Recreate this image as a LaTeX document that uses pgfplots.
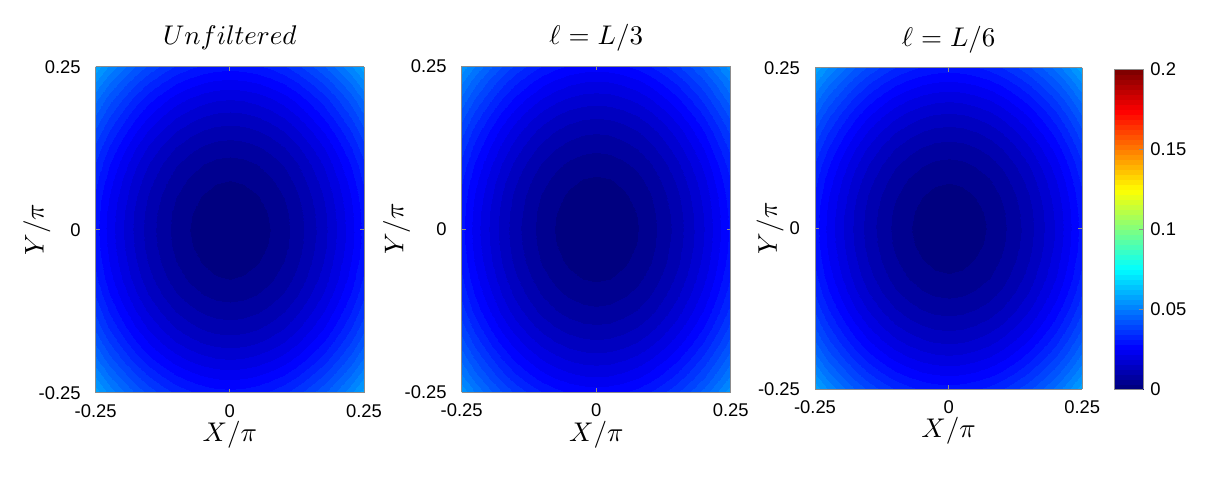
\documentclass[border=0pt]{standalone}
\usepackage{fontspec}
\setmainfont{Liberation Sans}
\DeclareFontShape{OML}{cmm}{m}{it}{<-> cmmi10}{}
\DeclareFontShape{OT1}{cmr}{m}{n}{<-> cmr10}{}
\usepackage{pgfplots}
\usepackage{pgfplotstable}
\pgfplotsset{compat=1.18}
\pgfplotsset{colormap={myjet}{rgb255(0cm)=(0,0,128) rgb255(1cm)=(0,0,255) rgb255(3cm)=(0,255,255) rgb255(5cm)=(255,255,0) rgb255(7cm)=(255,0,0) rgb255(8cm)=(128,0,0)}}
\pgfplotstableread{
x y a b c
-0.25 -0.25 0.0581 0.0554 0.0584
-0.225 -0.25 0.0526 0.0499 0.0529
-0.2 -0.25 0.0477 0.0450 0.0480
-0.175 -0.25 0.0434 0.0407 0.0437
-0.15 -0.25 0.0397 0.0370 0.0400
-0.125 -0.25 0.0365 0.0338 0.0368
-0.1 -0.25 0.0339 0.0312 0.0342
-0.075 -0.25 0.0319 0.0292 0.0322
-0.05 -0.25 0.0305 0.0278 0.0308
-0.025 -0.25 0.0296 0.0269 0.0299
0 -0.25 0.0293 0.0266 0.0296
0.025 -0.25 0.0296 0.0269 0.0299
0.05 -0.25 0.0305 0.0278 0.0308
0.075 -0.25 0.0319 0.0292 0.0322
0.1 -0.25 0.0339 0.0312 0.0342
0.125 -0.25 0.0365 0.0338 0.0368
0.15 -0.25 0.0397 0.0370 0.0400
0.175 -0.25 0.0434 0.0407 0.0437
0.2 -0.25 0.0477 0.0450 0.0480
0.225 -0.25 0.0526 0.0499 0.0529
0.25 -0.25 0.0581 0.0554 0.0584
-0.25 -0.225 0.0526 0.0504 0.0529
-0.225 -0.225 0.0471 0.0449 0.0474
-0.2 -0.225 0.0422 0.0400 0.0425
-0.175 -0.225 0.0379 0.0357 0.0382
-0.15 -0.225 0.0342 0.0320 0.0345
-0.125 -0.225 0.0310 0.0288 0.0313
-0.1 -0.225 0.0284 0.0262 0.0287
-0.075 -0.225 0.0264 0.0242 0.0267
-0.05 -0.225 0.0250 0.0228 0.0253
-0.025 -0.225 0.0241 0.0219 0.0244
0 -0.225 0.0238 0.0216 0.0241
0.025 -0.225 0.0241 0.0219 0.0244
0.05 -0.225 0.0250 0.0228 0.0253
0.075 -0.225 0.0264 0.0242 0.0267
0.1 -0.225 0.0284 0.0262 0.0287
0.125 -0.225 0.0310 0.0288 0.0313
0.15 -0.225 0.0342 0.0320 0.0345
0.175 -0.225 0.0379 0.0357 0.0382
0.2 -0.225 0.0422 0.0400 0.0425
0.225 -0.225 0.0471 0.0449 0.0474
0.25 -0.225 0.0526 0.0504 0.0529
-0.25 -0.2 0.0477 0.0459 0.0480
-0.225 -0.2 0.0422 0.0404 0.0425
-0.2 -0.2 0.0373 0.0355 0.0376
-0.175 -0.2 0.0330 0.0312 0.0333
-0.15 -0.2 0.0293 0.0275 0.0296
-0.125 -0.2 0.0261 0.0243 0.0264
-0.1 -0.2 0.0235 0.0217 0.0238
-0.075 -0.2 0.0215 0.0197 0.0218
-0.05 -0.2 0.0201 0.0183 0.0204
-0.025 -0.2 0.0192 0.0174 0.0195
0 -0.2 0.0189 0.0171 0.0192
0.025 -0.2 0.0192 0.0174 0.0195
0.05 -0.2 0.0201 0.0183 0.0204
0.075 -0.2 0.0215 0.0197 0.0218
0.1 -0.2 0.0235 0.0217 0.0238
0.125 -0.2 0.0261 0.0243 0.0264
0.15 -0.2 0.0293 0.0275 0.0296
0.175 -0.2 0.0330 0.0312 0.0333
0.2 -0.2 0.0373 0.0355 0.0376
0.225 -0.2 0.0422 0.0404 0.0425
0.25 -0.2 0.0477 0.0459 0.0480
-0.25 -0.175 0.0434 0.0420 0.0437
-0.225 -0.175 0.0379 0.0365 0.0382
-0.2 -0.175 0.0330 0.0316 0.0333
-0.175 -0.175 0.0287 0.0273 0.0290
-0.15 -0.175 0.0250 0.0236 0.0253
-0.125 -0.175 0.0218 0.0204 0.0221
-0.1 -0.175 0.0192 0.0178 0.0195
-0.075 -0.175 0.0172 0.0158 0.0175
-0.05 -0.175 0.0158 0.0144 0.0161
-0.025 -0.175 0.0149 0.0135 0.0152
0 -0.175 0.0146 0.0132 0.0149
0.025 -0.175 0.0149 0.0135 0.0152
0.05 -0.175 0.0158 0.0144 0.0161
0.075 -0.175 0.0172 0.0158 0.0175
0.1 -0.175 0.0192 0.0178 0.0195
0.125 -0.175 0.0218 0.0204 0.0221
0.15 -0.175 0.0250 0.0236 0.0253
0.175 -0.175 0.0287 0.0273 0.0290
0.2 -0.175 0.0330 0.0316 0.0333
0.225 -0.175 0.0379 0.0365 0.0382
0.25 -0.175 0.0434 0.0420 0.0437
-0.25 -0.15 0.0397 0.0386 0.0400
-0.225 -0.15 0.0342 0.0331 0.0345
-0.2 -0.15 0.0293 0.0282 0.0296
-0.175 -0.15 0.0250 0.0239 0.0253
-0.15 -0.15 0.0213 0.0202 0.0216
-0.125 -0.15 0.0181 0.0170 0.0184
-0.1 -0.15 0.0155 0.0144 0.0158
-0.075 -0.15 0.0135 0.0124 0.0138
-0.05 -0.15 0.0121 0.0110 0.0124
-0.025 -0.15 0.0112 0.0101 0.0115
0 -0.15 0.0109 0.0098 0.0112
0.025 -0.15 0.0112 0.0101 0.0115
0.05 -0.15 0.0121 0.0110 0.0124
0.075 -0.15 0.0135 0.0124 0.0138
0.1 -0.15 0.0155 0.0144 0.0158
0.125 -0.15 0.0181 0.0170 0.0184
0.15 -0.15 0.0213 0.0202 0.0216
0.175 -0.15 0.0250 0.0239 0.0253
0.2 -0.15 0.0293 0.0282 0.0296
0.225 -0.15 0.0342 0.0331 0.0345
0.25 -0.15 0.0397 0.0386 0.0400
-0.25 -0.125 0.0365 0.0357 0.0368
-0.225 -0.125 0.0310 0.0302 0.0313
-0.2 -0.125 0.0261 0.0253 0.0264
-0.175 -0.125 0.0218 0.0210 0.0221
-0.15 -0.125 0.0181 0.0173 0.0184
-0.125 -0.125 0.0149 0.0141 0.0152
-0.1 -0.125 0.0123 0.0115 0.0126
-0.075 -0.125 0.0103 0.0095 0.0106
-0.05 -0.125 0.0089 0.0081 0.0092
-0.025 -0.125 0.0080 0.0072 0.0083
0 -0.125 0.0077 0.0069 0.0080
0.025 -0.125 0.0080 0.0072 0.0083
0.05 -0.125 0.0089 0.0081 0.0092
0.075 -0.125 0.0103 0.0095 0.0106
0.1 -0.125 0.0123 0.0115 0.0126
0.125 -0.125 0.0149 0.0141 0.0152
0.15 -0.125 0.0181 0.0173 0.0184
0.175 -0.125 0.0218 0.0210 0.0221
0.2 -0.125 0.0261 0.0253 0.0264
0.225 -0.125 0.0310 0.0302 0.0313
0.25 -0.125 0.0365 0.0357 0.0368
-0.25 -0.1 0.0339 0.0333 0.0342
-0.225 -0.1 0.0284 0.0278 0.0287
-0.2 -0.1 0.0235 0.0229 0.0238
-0.175 -0.1 0.0192 0.0186 0.0195
-0.15 -0.1 0.0155 0.0149 0.0158
-0.125 -0.1 0.0123 0.0117 0.0126
-0.1 -0.1 0.0097 0.0091 0.0100
-0.075 -0.1 0.0077 0.0071 0.0080
-0.05 -0.1 0.0063 0.0057 0.0066
-0.025 -0.1 0.0054 0.0048 0.0057
0 -0.1 0.0051 0.0045 0.0054
0.025 -0.1 0.0054 0.0048 0.0057
0.05 -0.1 0.0063 0.0057 0.0066
0.075 -0.1 0.0077 0.0071 0.0080
0.1 -0.1 0.0097 0.0091 0.0100
0.125 -0.1 0.0123 0.0117 0.0126
0.15 -0.1 0.0155 0.0149 0.0158
0.175 -0.1 0.0192 0.0186 0.0195
0.2 -0.1 0.0235 0.0229 0.0238
0.225 -0.1 0.0284 0.0278 0.0287
0.25 -0.1 0.0339 0.0333 0.0342
-0.25 -0.075 0.0319 0.0315 0.0322
-0.225 -0.075 0.0264 0.0260 0.0267
-0.2 -0.075 0.0215 0.0211 0.0218
-0.175 -0.075 0.0172 0.0168 0.0175
-0.15 -0.075 0.0135 0.0131 0.0138
-0.125 -0.075 0.0103 0.0099 0.0106
-0.1 -0.075 0.0077 0.0073 0.0080
-0.075 -0.075 0.0057 0.0053 0.0060
-0.05 -0.075 0.0043 0.0039 0.0046
-0.025 -0.075 0.0034 0.0030 0.0037
0 -0.075 0.0031 0.0027 0.0034
0.025 -0.075 0.0034 0.0030 0.0037
0.05 -0.075 0.0043 0.0039 0.0046
0.075 -0.075 0.0057 0.0053 0.0060
0.1 -0.075 0.0077 0.0073 0.0080
0.125 -0.075 0.0103 0.0099 0.0106
0.15 -0.075 0.0135 0.0131 0.0138
0.175 -0.075 0.0172 0.0168 0.0175
0.2 -0.075 0.0215 0.0211 0.0218
0.225 -0.075 0.0264 0.0260 0.0267
0.25 -0.075 0.0319 0.0315 0.0322
-0.25 -0.05 0.0305 0.0302 0.0308
-0.225 -0.05 0.0250 0.0247 0.0253
-0.2 -0.05 0.0201 0.0198 0.0204
-0.175 -0.05 0.0158 0.0155 0.0161
-0.15 -0.05 0.0121 0.0118 0.0124
-0.125 -0.05 0.0089 0.0086 0.0092
-0.1 -0.05 0.0063 0.0060 0.0066
-0.075 -0.05 0.0043 0.0040 0.0046
-0.05 -0.05 0.0029 0.0026 0.0032
-0.025 -0.05 0.0020 0.0017 0.0023
0 -0.05 0.0017 0.0014 0.0020
0.025 -0.05 0.0020 0.0017 0.0023
0.05 -0.05 0.0029 0.0026 0.0032
0.075 -0.05 0.0043 0.0040 0.0046
0.1 -0.05 0.0063 0.0060 0.0066
0.125 -0.05 0.0089 0.0086 0.0092
0.15 -0.05 0.0121 0.0118 0.0124
0.175 -0.05 0.0158 0.0155 0.0161
0.2 -0.05 0.0201 0.0198 0.0204
0.225 -0.05 0.0250 0.0247 0.0253
0.25 -0.05 0.0305 0.0302 0.0308
-0.25 -0.025 0.0296 0.0294 0.0299
-0.225 -0.025 0.0241 0.0239 0.0244
-0.2 -0.025 0.0192 0.0190 0.0195
-0.175 -0.025 0.0149 0.0147 0.0152
-0.15 -0.025 0.0112 0.0110 0.0115
-0.125 -0.025 0.0080 0.0078 0.0083
-0.1 -0.025 0.0054 0.0052 0.0057
-0.075 -0.025 0.0034 0.0032 0.0037
-0.05 -0.025 0.0020 0.0018 0.0023
-0.025 -0.025 0.0011 0.0009 0.0014
0 -0.025 0.0008 0.0006 0.0011
0.025 -0.025 0.0011 0.0009 0.0014
0.05 -0.025 0.0020 0.0018 0.0023
0.075 -0.025 0.0034 0.0032 0.0037
0.1 -0.025 0.0054 0.0052 0.0057
0.125 -0.025 0.0080 0.0078 0.0083
0.15 -0.025 0.0112 0.0110 0.0115
0.175 -0.025 0.0149 0.0147 0.0152
0.2 -0.025 0.0192 0.0190 0.0195
0.225 -0.025 0.0241 0.0239 0.0244
0.25 -0.025 0.0296 0.0294 0.0299
-0.25 0 0.0293 0.0291 0.0296
-0.225 0 0.0238 0.0236 0.0241
-0.2 0 0.0189 0.0187 0.0192
-0.175 0 0.0146 0.0144 0.0149
-0.15 0 0.0109 0.0107 0.0112
-0.125 0 0.0077 0.0075 0.0080
-0.1 0 0.0051 0.0049 0.0054
-0.075 0 0.0031 0.0029 0.0034
-0.05 0 0.0017 0.0015 0.0020
-0.025 0 0.0008 0.0006 0.0011
0 0 0.0005 0.0003 0.0008
0.025 0 0.0008 0.0006 0.0011
0.05 0 0.0017 0.0015 0.0020
0.075 0 0.0031 0.0029 0.0034
0.1 0 0.0051 0.0049 0.0054
0.125 0 0.0077 0.0075 0.0080
0.15 0 0.0109 0.0107 0.0112
0.175 0 0.0146 0.0144 0.0149
0.2 0 0.0189 0.0187 0.0192
0.225 0 0.0238 0.0236 0.0241
0.25 0 0.0293 0.0291 0.0296
-0.25 0.025 0.0296 0.0294 0.0299
-0.225 0.025 0.0241 0.0239 0.0244
-0.2 0.025 0.0192 0.0190 0.0195
-0.175 0.025 0.0149 0.0147 0.0152
-0.15 0.025 0.0112 0.0110 0.0115
-0.125 0.025 0.0080 0.0078 0.0083
-0.1 0.025 0.0054 0.0052 0.0057
-0.075 0.025 0.0034 0.0032 0.0037
-0.05 0.025 0.0020 0.0018 0.0023
-0.025 0.025 0.0011 0.0009 0.0014
0 0.025 0.0008 0.0006 0.0011
0.025 0.025 0.0011 0.0009 0.0014
0.05 0.025 0.0020 0.0018 0.0023
0.075 0.025 0.0034 0.0032 0.0037
0.1 0.025 0.0054 0.0052 0.0057
0.125 0.025 0.0080 0.0078 0.0083
0.15 0.025 0.0112 0.0110 0.0115
0.175 0.025 0.0149 0.0147 0.0152
0.2 0.025 0.0192 0.0190 0.0195
0.225 0.025 0.0241 0.0239 0.0244
0.25 0.025 0.0296 0.0294 0.0299
-0.25 0.05 0.0305 0.0302 0.0308
-0.225 0.05 0.0250 0.0247 0.0253
-0.2 0.05 0.0201 0.0198 0.0204
-0.175 0.05 0.0158 0.0155 0.0161
-0.15 0.05 0.0121 0.0118 0.0124
-0.125 0.05 0.0089 0.0086 0.0092
-0.1 0.05 0.0063 0.0060 0.0066
-0.075 0.05 0.0043 0.0040 0.0046
-0.05 0.05 0.0029 0.0026 0.0032
-0.025 0.05 0.0020 0.0017 0.0023
0 0.05 0.0017 0.0014 0.0020
0.025 0.05 0.0020 0.0017 0.0023
0.05 0.05 0.0029 0.0026 0.0032
0.075 0.05 0.0043 0.0040 0.0046
0.1 0.05 0.0063 0.0060 0.0066
0.125 0.05 0.0089 0.0086 0.0092
0.15 0.05 0.0121 0.0118 0.0124
0.175 0.05 0.0158 0.0155 0.0161
0.2 0.05 0.0201 0.0198 0.0204
0.225 0.05 0.0250 0.0247 0.0253
0.25 0.05 0.0305 0.0302 0.0308
-0.25 0.075 0.0319 0.0315 0.0322
-0.225 0.075 0.0264 0.0260 0.0267
-0.2 0.075 0.0215 0.0211 0.0218
-0.175 0.075 0.0172 0.0168 0.0175
-0.15 0.075 0.0135 0.0131 0.0138
-0.125 0.075 0.0103 0.0099 0.0106
-0.1 0.075 0.0077 0.0073 0.0080
-0.075 0.075 0.0057 0.0053 0.0060
-0.05 0.075 0.0043 0.0039 0.0046
-0.025 0.075 0.0034 0.0030 0.0037
0 0.075 0.0031 0.0027 0.0034
0.025 0.075 0.0034 0.0030 0.0037
0.05 0.075 0.0043 0.0039 0.0046
0.075 0.075 0.0057 0.0053 0.0060
0.1 0.075 0.0077 0.0073 0.0080
0.125 0.075 0.0103 0.0099 0.0106
0.15 0.075 0.0135 0.0131 0.0138
0.175 0.075 0.0172 0.0168 0.0175
0.2 0.075 0.0215 0.0211 0.0218
0.225 0.075 0.0264 0.0260 0.0267
0.25 0.075 0.0319 0.0315 0.0322
-0.25 0.1 0.0339 0.0333 0.0342
-0.225 0.1 0.0284 0.0278 0.0287
-0.2 0.1 0.0235 0.0229 0.0238
-0.175 0.1 0.0192 0.0186 0.0195
-0.15 0.1 0.0155 0.0149 0.0158
-0.125 0.1 0.0123 0.0117 0.0126
-0.1 0.1 0.0097 0.0091 0.0100
-0.075 0.1 0.0077 0.0071 0.0080
-0.05 0.1 0.0063 0.0057 0.0066
-0.025 0.1 0.0054 0.0048 0.0057
0 0.1 0.0051 0.0045 0.0054
0.025 0.1 0.0054 0.0048 0.0057
0.05 0.1 0.0063 0.0057 0.0066
0.075 0.1 0.0077 0.0071 0.0080
0.1 0.1 0.0097 0.0091 0.0100
0.125 0.1 0.0123 0.0117 0.0126
0.15 0.1 0.0155 0.0149 0.0158
0.175 0.1 0.0192 0.0186 0.0195
0.2 0.1 0.0235 0.0229 0.0238
0.225 0.1 0.0284 0.0278 0.0287
0.25 0.1 0.0339 0.0333 0.0342
-0.25 0.125 0.0365 0.0357 0.0368
-0.225 0.125 0.0310 0.0302 0.0313
-0.2 0.125 0.0261 0.0253 0.0264
-0.175 0.125 0.0218 0.0210 0.0221
-0.15 0.125 0.0181 0.0173 0.0184
-0.125 0.125 0.0149 0.0141 0.0152
-0.1 0.125 0.0123 0.0115 0.0126
-0.075 0.125 0.0103 0.0095 0.0106
-0.05 0.125 0.0089 0.0081 0.0092
-0.025 0.125 0.0080 0.0072 0.0083
0 0.125 0.0077 0.0069 0.0080
0.025 0.125 0.0080 0.0072 0.0083
0.05 0.125 0.0089 0.0081 0.0092
0.075 0.125 0.0103 0.0095 0.0106
0.1 0.125 0.0123 0.0115 0.0126
0.125 0.125 0.0149 0.0141 0.0152
0.15 0.125 0.0181 0.0173 0.0184
0.175 0.125 0.0218 0.0210 0.0221
0.2 0.125 0.0261 0.0253 0.0264
0.225 0.125 0.0310 0.0302 0.0313
0.25 0.125 0.0365 0.0357 0.0368
-0.25 0.15 0.0397 0.0386 0.0400
-0.225 0.15 0.0342 0.0331 0.0345
-0.2 0.15 0.0293 0.0282 0.0296
-0.175 0.15 0.0250 0.0239 0.0253
-0.15 0.15 0.0213 0.0202 0.0216
-0.125 0.15 0.0181 0.0170 0.0184
-0.1 0.15 0.0155 0.0144 0.0158
-0.075 0.15 0.0135 0.0124 0.0138
-0.05 0.15 0.0121 0.0110 0.0124
-0.025 0.15 0.0112 0.0101 0.0115
0 0.15 0.0109 0.0098 0.0112
0.025 0.15 0.0112 0.0101 0.0115
0.05 0.15 0.0121 0.0110 0.0124
0.075 0.15 0.0135 0.0124 0.0138
0.1 0.15 0.0155 0.0144 0.0158
0.125 0.15 0.0181 0.0170 0.0184
0.15 0.15 0.0213 0.0202 0.0216
0.175 0.15 0.0250 0.0239 0.0253
0.2 0.15 0.0293 0.0282 0.0296
0.225 0.15 0.0342 0.0331 0.0345
0.25 0.15 0.0397 0.0386 0.0400
-0.25 0.175 0.0434 0.0420 0.0437
-0.225 0.175 0.0379 0.0365 0.0382
-0.2 0.175 0.0330 0.0316 0.0333
-0.175 0.175 0.0287 0.0273 0.0290
-0.15 0.175 0.0250 0.0236 0.0253
-0.125 0.175 0.0218 0.0204 0.0221
-0.1 0.175 0.0192 0.0178 0.0195
-0.075 0.175 0.0172 0.0158 0.0175
-0.05 0.175 0.0158 0.0144 0.0161
-0.025 0.175 0.0149 0.0135 0.0152
0 0.175 0.0146 0.0132 0.0149
0.025 0.175 0.0149 0.0135 0.0152
0.05 0.175 0.0158 0.0144 0.0161
0.075 0.175 0.0172 0.0158 0.0175
0.1 0.175 0.0192 0.0178 0.0195
0.125 0.175 0.0218 0.0204 0.0221
0.15 0.175 0.0250 0.0236 0.0253
0.175 0.175 0.0287 0.0273 0.0290
0.2 0.175 0.0330 0.0316 0.0333
0.225 0.175 0.0379 0.0365 0.0382
0.25 0.175 0.0434 0.0420 0.0437
-0.25 0.2 0.0477 0.0459 0.0480
-0.225 0.2 0.0422 0.0404 0.0425
-0.2 0.2 0.0373 0.0355 0.0376
-0.175 0.2 0.0330 0.0312 0.0333
-0.15 0.2 0.0293 0.0275 0.0296
-0.125 0.2 0.0261 0.0243 0.0264
-0.1 0.2 0.0235 0.0217 0.0238
-0.075 0.2 0.0215 0.0197 0.0218
-0.05 0.2 0.0201 0.0183 0.0204
-0.025 0.2 0.0192 0.0174 0.0195
0 0.2 0.0189 0.0171 0.0192
0.025 0.2 0.0192 0.0174 0.0195
0.05 0.2 0.0201 0.0183 0.0204
0.075 0.2 0.0215 0.0197 0.0218
0.1 0.2 0.0235 0.0217 0.0238
0.125 0.2 0.0261 0.0243 0.0264
0.15 0.2 0.0293 0.0275 0.0296
0.175 0.2 0.0330 0.0312 0.0333
0.2 0.2 0.0373 0.0355 0.0376
0.225 0.2 0.0422 0.0404 0.0425
0.25 0.2 0.0477 0.0459 0.0480
-0.25 0.225 0.0526 0.0504 0.0529
-0.225 0.225 0.0471 0.0449 0.0474
-0.2 0.225 0.0422 0.0400 0.0425
-0.175 0.225 0.0379 0.0357 0.0382
-0.15 0.225 0.0342 0.0320 0.0345
-0.125 0.225 0.0310 0.0288 0.0313
-0.1 0.225 0.0284 0.0262 0.0287
-0.075 0.225 0.0264 0.0242 0.0267
-0.05 0.225 0.0250 0.0228 0.0253
-0.025 0.225 0.0241 0.0219 0.0244
0 0.225 0.0238 0.0216 0.0241
0.025 0.225 0.0241 0.0219 0.0244
0.05 0.225 0.0250 0.0228 0.0253
0.075 0.225 0.0264 0.0242 0.0267
0.1 0.225 0.0284 0.0262 0.0287
0.125 0.225 0.0310 0.0288 0.0313
0.15 0.225 0.0342 0.0320 0.0345
0.175 0.225 0.0379 0.0357 0.0382
0.2 0.225 0.0422 0.0400 0.0425
0.225 0.225 0.0471 0.0449 0.0474
0.25 0.225 0.0526 0.0504 0.0529
-0.25 0.25 0.0581 0.0554 0.0584
-0.225 0.25 0.0526 0.0499 0.0529
-0.2 0.25 0.0477 0.0450 0.0480
-0.175 0.25 0.0434 0.0407 0.0437
-0.15 0.25 0.0397 0.0370 0.0400
-0.125 0.25 0.0365 0.0338 0.0368
-0.1 0.25 0.0339 0.0312 0.0342
-0.075 0.25 0.0319 0.0292 0.0322
-0.05 0.25 0.0305 0.0278 0.0308
-0.025 0.25 0.0296 0.0269 0.0299
0 0.25 0.0293 0.0266 0.0296
0.025 0.25 0.0296 0.0269 0.0299
0.05 0.25 0.0305 0.0278 0.0308
0.075 0.25 0.0319 0.0292 0.0322
0.1 0.25 0.0339 0.0312 0.0342
0.125 0.25 0.0365 0.0338 0.0368
0.15 0.25 0.0397 0.0370 0.0400
0.175 0.25 0.0434 0.0407 0.0437
0.2 0.25 0.0477 0.0450 0.0480
0.225 0.25 0.0526 0.0499 0.0529
0.25 0.25 0.0581 0.0554 0.0584
}\grid

\pgfplotsset{
  every axis title shift=0pt,
  myax/.style={
    scale only axis, view={0}{90}, axis on top,
    anchor=south west,
    xmin=-0.25, xmax=0.25, ymin=-0.25, ymax=0.25, enlargelimits=false,
    xtick={-0.25,0,0.25}, ytick={-0.25,0,0.25}, ztick=\empty,
    xticklabels={-0.25,0,0.25}, yticklabels={-0.25,0,0.25},
    tick label style={font=\fontsize{9.2}{11}\selectfont},
    yticklabel style={xshift=-4pt},
    xticklabel style={yshift=-2.5pt},
    tick align=inside, major tick length=2pt, tickpos=both,
    axis line style={black!45, line width=0.4pt},
    every tick/.append style={black!45, line width=0.4pt},
    colormap name=myjet, point meta min=0, point meta max=0.2,
    label style={font=\fontsize{13.5}{16}\selectfont},
    title style={font=\fontsize{13.5}{16}\selectfont, at={(axis description cs:0.5,1.088)}, anchor=center},
    xlabel={$X/\pi$}, ylabel={$Y/\pi$},
    xlabel style={at={(axis description cs:0.5,-0.13)}, anchor=center},
  }
}

\begin{document}
\begin{tikzpicture}
\path[use as bounding box] (0,0) rectangle (603.5pt,238.5pt);

\begin{axis}[myax, at={(47.85pt,42.15pt)}, width=134.15pt, height=163pt,
  title={$Unfiltered$},
  ylabel style={at={(axis description cs:-0.219,0.5)}, anchor=center}]
\addplot3[contour filled={number=64}, mesh/cols=21] table[x=x, y=y, z=a] {\grid};
\end{axis}

\begin{axis}[myax, at={(230.85pt,42.5pt)}, width=134.5pt, height=163pt,
  title={$\ell = L/3$},
  ylabel style={at={(axis description cs:-0.242,0.5)}, anchor=center}]
\addplot3[contour filled={number=64}, mesh/cols=21] table[x=x, y=y, z=b] {\grid};
\end{axis}

\begin{axis}[myax, at={(407.5pt,44pt)}, width=133.65pt, height=160.65pt,
  title={$\ell = L/6$},
  ylabel style={at={(axis description cs:-0.168,0.5)}, anchor=center},
  colorbar,
  colorbar style={
    at={(parent axis.north east)}, anchor=north west, xshift=7.5pt, yshift=-0.8pt,
    scale only axis, width=14.5pt, height=160pt,
    ytick={0,0.05,0.1,0.15,0.2}, yticklabels={0,0.05,0.1,0.15,0.2},
    yticklabel pos=right, ytick pos=right,
    tick align=inside, major tick length=2pt,
    axis line style={black!45, line width=0.4pt},
    every tick/.append style={black!45, line width=0.4pt},
    yticklabel style={font=\fontsize{9.2}{11}\selectfont},
  }]
\addplot3[contour filled={number=64}, mesh/cols=21] table[x=x, y=y, z=c] {\grid};
\end{axis}
\end{tikzpicture}
\end{document}
